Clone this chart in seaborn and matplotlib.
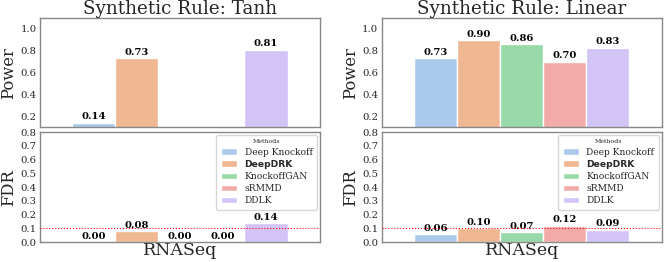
import matplotlib
matplotlib.use("Agg")
import matplotlib.pyplot as plt
import seaborn as sns
import pandas as pd
import numpy as np

methods = ["Deep Knockoff", "DeepDRK", "KnockoffGAN", "sRMMD", "DDLK"]
dataset = "RNASeq"
tanh_power = [0.14, 0.73, 0.00, 0.00, 0.81]
tanh_fdr = [0.00, 0.08, 0.00, 0.00, 0.14]
linear_power = [0.73, 0.90, 0.86, 0.70, 0.83]
linear_fdr = [0.06, 0.10, 0.07, 0.12, 0.09]
titles = ["Synthetic Rule: Tanh", "Synthetic Rule: Linear"]

sns.set_style("white")
plt.rcParams["font.family"] = ["DejaVu Serif"]
palette = sns.color_palette("pastel", 5)

fig = plt.figure(figsize=(6.65, 2.62), dpi=100)

lefts = [0.060, 0.574]
W = 0.421
panels = [(tanh_power, tanh_fdr), (linear_power, linear_fdr)]


def draw(ax, vals, ylim, ylabel, show_legend):
    df = pd.DataFrame({"Dataset": [dataset] * len(methods), "Method": methods, "Value": vals})
    sns.barplot(data=df, x="Dataset", y="Value", hue="Method", hue_order=methods,
                palette=palette, edgecolor="white", linewidth=1.0, ax=ax,
                legend=show_legend, errorbar=None)
    ax.set_ylim(*ylim)
    ax.set_xlim(-0.52, 0.52)
    ax.set_ylabel(ylabel, fontsize=11.8)
    ax.yaxis.set_label_coords(-0.08, 0.5)
    ax.tick_params(axis="y", labelsize=7.3, pad=2.5, length=0)
    for s in ax.spines.values():
        s.set_color("#888888")
        s.set_linewidth(1.0)
    for cont in ax.containers:
        for bar in cont:
            h = bar.get_height()
            if np.isnan(h) or h < ylim[0] and ylim[0] > 0:
                continue
            ax.text(bar.get_x() + bar.get_width() / 2, h + (ylim[1] - ylim[0]) * 0.012,
                    f"{h:.2f}", ha="center", va="bottom", fontsize=7.2,
                    fontweight="bold", color="black")


for i, (pw, fd) in enumerate(panels):
    axp = fig.add_axes([lefts[i], 0.515, W, 0.416])
    axf = fig.add_axes([lefts[i], 0.076, W, 0.420])
    draw(axp, pw, (0.1, 1.1), "Power", False)
    axp.set_yticks([0.2, 0.4, 0.6, 0.8, 1.0])
    axp.set_xticks([])
    axp.set_xlabel("")
    axp.set_title(titles[i], fontsize=13.2, pad=2)

    draw(axf, fd, (0.0, 0.8), "FDR", True)
    axf.set_yticks(np.arange(0, 0.81, 0.1))
    axf.set_xticks([])
    axf.set_xlabel(dataset, fontsize=12.5, labelpad=0)
    axf.axhline(0.1, color="red", linestyle=":", linewidth=0.8, zorder=5)
    leg = axf.legend(title="Methods", loc="upper right", fontsize=6.6, title_fontsize=4.5,
                     handlelength=1.8, handletextpad=0.8, frameon=True, borderpad=0.5,
                     labelspacing=0.35, borderaxespad=0.3)
    leg.get_frame().set_edgecolor("#cccccc")
    for t in leg.get_texts():
        if t.get_text() == "DeepDRK":
            t.set_fontfamily("DejaVu Sans")
            t.set_fontweight("bold")

fig.savefig("out.png", dpi=100)
